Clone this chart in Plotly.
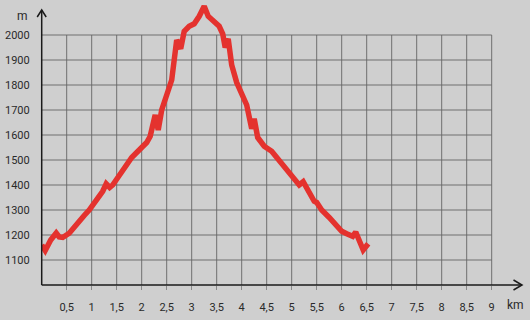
import plotly.graph_objects as go

# ---- data ----
distance_km = [0.0, 0.07, 0.18, 0.29, 0.35, 0.42, 0.55, 0.65, 0.75, 0.85, 0.95, 1.05, 1.15, 1.22,
               1.29, 1.36, 1.42, 1.5, 1.6, 1.7, 1.8, 1.9, 2.0, 2.1, 2.17, 2.22, 2.27, 2.33, 2.4,
               2.5, 2.6, 2.65, 2.7, 2.78, 2.85, 2.95, 3.05, 3.15, 3.25, 3.33, 3.45, 3.55, 3.62,
               3.67, 3.73, 3.8, 3.9, 4.0, 4.1, 4.2, 4.25, 4.32, 4.45, 4.6, 4.7, 4.85, 5.0, 5.15,
               5.23, 5.3, 5.4, 5.45, 5.5, 5.6, 5.75, 5.9, 6.0, 6.1, 6.22, 6.28, 6.35, 6.43, 6.53]
elevation_m = [1160, 1138, 1180, 1208, 1192, 1190, 1207, 1232, 1260, 1278, 1300, 1325, 1350, 1375,
               1405, 1390, 1400, 1425, 1450, 1480, 1510, 1530, 1550, 1570, 1595, 1630, 1680, 1620, 1700,
               1760, 1820, 1900, 1980, 1945, 2015, 2035, 2045, 2075, 2115, 2075, 2050, 2035, 2005,
               1950, 1985, 1880, 1810, 1770, 1720, 1625, 1665, 1590, 1555, 1535, 1510, 1480, 1440, 1400,
               1413, 1390, 1350, 1335, 1330, 1300, 1270, 1240, 1215, 1205, 1195, 1212, 1180, 1140, 1165]

x_tickvals = [0.5, 1, 1.5, 2, 2.5, 3, 3.5, 4, 4.5, 5, 5.5, 6, 6.5, 7, 7.5, 8, 8.5, 9]
x_ticktext = ["0,5", "1", "1,5", "2", "2,5", "3", "3,5", "4", "4,5", "5", "5,5", "6", "6,5",
              "7", "7,5", "8", "8,5", "9"]
y_tickvals = [1100, 1200, 1300, 1400, 1500, 1600, 1700, 1800, 1900, 2000]
y_ticktext = [str(v) for v in y_tickvals]

# ---- layout geometry ----
W, H = 530, 320
XDOM = [41.7 / W, 1.0]
YDOM = [35 / H, 1.0]
XR = [0, (W - 41.7) / 50]
YR = [1000, 1000 + 285 * 4]
BG = "#cfcfcf"
GRID = "rgb(100,100,100)"
AXIS = "#1a1a1a"
RED = "rgb(228,50,46)"
FONT = dict(family="Roboto, Arial, sans-serif", size=11, color="#2a2a2a")


def xp(v):
    return XDOM[0] + (v - XR[0]) / (XR[1] - XR[0]) * (XDOM[1] - XDOM[0])


def yp(v):
    return YDOM[0] + (v - YR[0]) / (YR[1] - YR[0]) * (YDOM[1] - YDOM[0])


fig = go.Figure()
fig.add_trace(go.Scatter(x=distance_km, y=elevation_m, mode="lines",
                         line=dict(color=RED, width=5.5), hoverinfo="skip"))

shapes = []
# grid
for v in x_tickvals:
    shapes.append(dict(type="line", xref="x", yref="y", x0=v, x1=v, y0=1000, y1=max(y_tickvals),
                       line=dict(color=GRID, width=0.9), layer="below"))
for v in y_tickvals:
    shapes.append(dict(type="line", xref="x", yref="y", x0=0, x1=max(x_tickvals), y0=v, y1=v,
                       line=dict(color=GRID, width=0.9), layer="below"))
# axes with arrows (paper coordinates)
ytop = 2100
xend = 9.606
shapes.append(dict(type="line", xref="paper", yref="paper", x0=xp(0), x1=xp(0), y0=yp(1000), y1=yp(ytop),
                   line=dict(color=AXIS, width=1.5)))
shapes.append(dict(type="path", xref="paper", yref="paper",
                   path=f"M {xp(-0.09)} {yp(ytop-28)} L {xp(0)} {yp(ytop)} L {xp(0.09)} {yp(ytop-28)}",
                   line=dict(color=AXIS, width=1.5)))
shapes.append(dict(type="line", xref="paper", yref="paper", x0=xp(0), x1=xp(xend), y0=yp(1000), y1=yp(1000),
                   line=dict(color=AXIS, width=1.5)))
shapes.append(dict(type="path", xref="paper", yref="paper",
                   path=f"M {xp(xend-0.17)} {yp(1020)} L {xp(xend)} {yp(1000)} L {xp(xend-0.17)} {yp(980)}",
                   line=dict(color=AXIS, width=1.5)))

annotations = [
    dict(text="m", xref="paper", yref="paper", x=22 / W, y=1 - 16 / H, showarrow=False,
         xanchor="center", yanchor="middle", font=dict(FONT, size=12)),
    dict(text="km", xref="paper", yref="paper", x=515.5 / W, y=1 - 305 / H, showarrow=False,
         xanchor="center", yanchor="middle", font=dict(FONT, size=12)),
]

fig.update_layout(
    width=W, height=H, margin=dict(l=0, r=0, t=0, b=0),
    paper_bgcolor=BG, plot_bgcolor=BG, showlegend=False,
    font=FONT, shapes=shapes, annotations=annotations,
    xaxis=dict(domain=XDOM, range=XR, showgrid=False, zeroline=False, showline=False,
               tickvals=x_tickvals, ticktext=x_ticktext, ticks="outside", ticklen=4,
               tickcolor="#8a8a8a", tickwidth=1, ticklabelstandoff=8,
               automargin=False, fixedrange=True),
    yaxis=dict(domain=YDOM, range=YR, showgrid=False, zeroline=False, showline=False,
               tickvals=y_tickvals, ticktext=y_ticktext, ticks="", ticklabelstandoff=11,
               automargin=False, fixedrange=True),
)

fig.write_html("out.html")
